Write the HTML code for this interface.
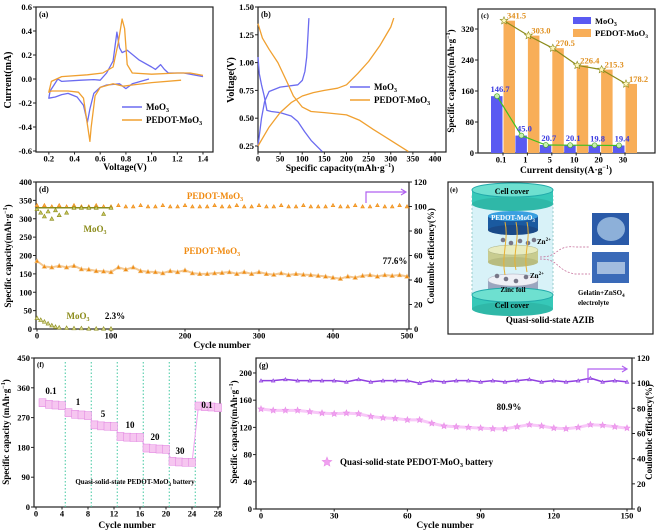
<!DOCTYPE html>
<html><head><meta charset="utf-8">
<style>
html,body{margin:0;padding:0;background:#fff;}
svg{display:block;font-family:"Liberation Serif",serif;font-weight:bold;}
</style></head>
<body>
<svg id="fig" width="656" height="530" viewBox="0 0 656 530" xmlns="http://www.w3.org/2000/svg">
</svg>
<script>
// ---------- DATA ----------
// (a) CV curves [V, mA]
const cvMoO3V = [0.98,0.85,0.8,0.75,0.65,0.6,0.55,0.52,0.5,0.47,0.42,0.35,0.3,0.25,0.2,0.21,0.24,0.27,0.3,0.45,0.55,0.6,0.65,0.7,0.73,0.75,0.77,0.81,0.9,1.0,1.03,1.07,1.1,1.13,1.25,1.4];
const cvMoO3I = [0.0,-0.04,-0.08,-0.04,-0.05,-0.07,-0.12,-0.25,-0.36,-0.22,-0.15,-0.12,-0.13,-0.15,-0.16,-0.1,-0.05,0.0,-0.02,-0.01,-0.005,-0.01,0.05,0.15,0.39,0.26,0.22,0.24,0.16,0.1,0.08,0.12,0.08,0.05,0.05,0.02];
const cvPedV = [1.23,1.0,0.85,0.78,0.7,0.6,0.56,0.53,0.52,0.5,0.47,0.43,0.35,0.22,0.2,0.22,0.3,0.5,0.62,0.7,0.74,0.77,0.79,0.81,0.85,1.0,1.2,1.3,1.4];
const cvPedI = [-0.01,-0.03,-0.05,-0.06,-0.04,-0.07,-0.14,-0.4,-0.52,-0.38,-0.16,-0.11,-0.1,-0.1,-0.11,-0.02,0.02,0.035,0.05,0.1,0.3,0.5,0.42,0.12,0.05,0.04,0.05,0.05,0.03];
// (b) GCD curves [mAh/g, V]
const gMoCq = [0,8,15,25,50,90,100,106,110,113,115];
const gMoCv = [0.25,0.5,0.65,0.74,0.78,0.8,0.84,0.92,1.05,1.25,1.4];
const gMoDq = [0,3,8,14,20,30,50,75,90,105,120,135,145];
const gMoDv = [1.05,0.9,0.8,0.7,0.57,0.56,0.55,0.52,0.47,0.38,0.3,0.24,0.2];
const gPeCq = [0,25,50,75,100,125,150,180,200,225,250,275,300,307];
const gPeCv = [0.25,0.42,0.55,0.64,0.7,0.73,0.75,0.77,0.8,0.9,1.01,1.15,1.32,1.4];
const gPeDq = [0,10,25,45,65,80,100,120,150,200,230,260,300,340];
const gPeDv = [1.35,1.22,1.12,1.0,0.83,0.7,0.6,0.56,0.55,0.53,0.48,0.4,0.3,0.2];
// (c) rate bars
const cCats = ["0.1","1","5","10","20","30"];
const cMoO3 = [146.7,45.0,20.7,20.1,19.8,19.4];
const cPedot = [341.5,303.0,270.5,226.4,215.3,178.2];
const cMoLbl = ["146.7","45.0","20.7","20.1","19.8","19.4"];
const cPeLbl = ["341.5","303.0","270.5","226.4","215.3","178.2"];
// (d) cycling 500
const dCycles = [0,10,20,30,40,50,60,70,80,90,100,110,120,130,140,150,160,170,180,190,200,210,220,230,240,250,260,270,280,290,300,310,320,330,340,350,360,370,380,390,400,410,420,430,440,450,460,470,480,490,500];
const dPedCap = [185,170,168,172,168,172,163,162,158,157,155,168,162,168,158,156,155,152,158,155,160,152,150,150,152,153,155,150,155,150,155,150,148,152,147,150,148,147,145,143,140,137,143,140,145,147,143,147,145,147,143];
const dPedCE = [101,101,100,101,100,101,100,100,101,100,100,101,100,100,101,100,100,101,100,100,101,100,100,100,101,100,100,101,100,100,101,100,100,101,100,100,101,100,100,100,101,100,100,101,100,100,101,100,100,101,100];
const dMoCyc = [0,5,10,15,20,25,30,40,50,60,70,80,90,100];
const dMoCap = [30,25,20,15,10,6,4,3,2,2,1,1,1,1];
const dMoCE = [98,95,92,96,90,97,93,95,99,99,99,99,94,99];
// (f) rate capability
const fCycles = [1,2,3,4,5,6,7,8,9,10,11,12,13,14,15,16,17,18,19,20,21,22,23,24,25,26,27,28];
const fCap = [315,310,308,306,285,280,278,276,248,245,244,243,213,211,210,210,178,176,175,174,138,136,135,135,305,303,302,300];
const fRates = ["0.1","1","5","10","20","30","0.1"];
// (g) quasi-solid cycling
const gCycles = [0,5,10,15,20,25,30,35,40,45,50,55,60,65,70,75,80,85,90,95,100,105,110,115,120,125,130,135,140,145,150];
const gCap = [147,145,145,145,143,141,140,141,140,136,134,133,131,131,126,122,121,120,119,118,118,121,124,122,119,118,120,124,123,121,119];
const gCE = [102,102,103,102,102,102,102,101,103,101,102,102,102,100,102,101,102,102,101,102,101,102,103,101,102,101,102,104,101,102,101];

// ---------- HELPERS ----------
const NS="http://www.w3.org/2000/svg";
const svg=document.getElementById('fig');
function mk(tag,attrs,parent){const e=document.createElementNS(NS,tag);for(const k in attrs)e.setAttribute(k,attrs[k]);(parent||svg).appendChild(e);return e;}
function nm(el,n,i){

return el;}
function txt(x,y,s,size,opts,name){const t=mk('text',Object.assign({x:x,y:y,'font-size':size},opts||{}));t.innerHTML=s;nm(t,name);return t;}
function lin(d0,d1,r0,r1){return v=>r0+(v-d0)/(d1-d0)*(r1-r0);}
function frame(x0,y0,x1,y1,name){nm(mk('rect',{x:x0,y:y0,width:x1-x0,height:y1-y0,fill:'none',stroke:'#222','stroke-width':1.2}),name);}
function xTicks(sx,y,vals,labels,name,fs){vals.forEach((v,i)=>{nm(mk('line',{x1:sx(v),x2:sx(v),y1:y,y2:y+2.5,stroke:'#222'}),name+'-tick');txt(sx(v),y+9.5,labels[i],fs||8.5,{'text-anchor':'middle'},name+'-label');});}
function yTicks(sy,x,vals,labels,name,right,fs){vals.forEach((v,i)=>{nm(mk('line',{x1:x,x2:right?x+3:x-3,y1:sy(v),y2:sy(v),stroke:'#222'}),name+'-tick');txt(right?x+5:x-4,sy(v)+3,labels[i],fs||8.5,{'text-anchor':right?'start':'end'},name+'-label');});}
function path(xs,ys,sx,sy,color,name,w){let d='';xs.forEach((v,i)=>{d+=(i?'L':'M')+sx(v).toFixed(1)+' '+sy(ys[i]).toFixed(1);});return nm(mk('path',{d:d,fill:'none',stroke:color,'stroke-width':w||1.3,'stroke-linejoin':'round'}),name);}
function vtitle(x,y,s,fs,name){const t=txt(x,y,s,fs,{'text-anchor':'middle',transform:'rotate(-90 '+x+' '+y+')'},name);return t;}
function tri(x,y,r,fill,stroke,name){return nm(mk('path',{d:`M${x} ${y-r}L${x+r} ${y+r*0.8}L${x-r} ${y+r*0.8}Z`,fill:fill,stroke:stroke,'stroke-width':0.6}),name);}
function star(x,y,r,fill,stroke,name){let d='';for(let k=0;k<10;k++){const a=-Math.PI/2+k*Math.PI/5,rr=k%2?r*0.45:r;d+=(k?'L':'M')+(x+rr*Math.cos(a)).toFixed(1)+' '+(y+rr*Math.sin(a)).toFixed(1);}return nm(mk('path',{d:d+'Z',fill:fill,stroke:stroke,'stroke-width':0.6}),name);}
const BLUE='#6b6bf0',ORANGE='#f0a030',OLIVE='#8b8b1a',PURPLE='#9040e0',PINK='#f0a0f0';

// ---------- (a) ----------
{const sx=lin(0.1,1.478,36,213),sy=lin(-0.6,0.6,151,7);
frame(36,7,213,152,'panel-a-frame');
xTicks(sx,152,[0.2,0.4,0.6,0.8,1.0,1.2,1.4],['0.2','0.4','0.6','0.8','1.0','1.2','1.4'],'a-x');
yTicks(sy,36,[-0.6,-0.4,-0.2,0,0.2,0.4,0.6],['-0.6','-0.4','-0.2','0.0','0.2','0.4','0.6'],'a-y');
path(cvMoO3V,cvMoO3I,sx,sy,BLUE,'a-moo3-curve');
path(cvPedV,cvPedI,sx,sy,ORANGE,'a-pedot-curve');
txt(39,17,'(a)',8,{},'a-label');
nm(mk('line',{x1:122,x2:142,y1:107,y2:107,stroke:BLUE,'stroke-width':1.5}),'a-legend-moo3-line');
txt(146,110,'MoO<tspan font-size="6" dy="2">3</tspan>',9,{},'a-legend-moo3');
nm(mk('line',{x1:122,x2:142,y1:120,y2:120,stroke:ORANGE,'stroke-width':1.5}),'a-legend-pedot-line');
txt(146,123,'PEDOT-MoO<tspan font-size="6" dy="2">3</tspan>',9,{},'a-legend-pedot');
txt(125,170,'Voltage(V)',9.5,{'text-anchor':'middle'},'a-x-title');
vtitle(11,80,'Current(mA)',10,'a-y-title');}

// ---------- (b) ----------
{const sx=lin(0,400,258,435),sy=lin(0.25,1.5,146,7);
frame(258,7,446,152,'panel-b-frame');
xTicks(sx,152,[0,50,100,150,200,250,300,350,400],['0','50','100','150','200','250','300','350','400'],'b-x');
yTicks(sy,258,[0.25,0.5,0.75,1.0,1.25,1.5],['0.25','0.50','0.75','1.00','1.25','1.50'],'b-y');
path(gMoCq,gMoCv,sx,sy,BLUE,'b-moo3-charge');
path(gMoDq,gMoDv,sx,sy,BLUE,'b-moo3-discharge');
path(gPeCq,gPeCv,sx,sy,ORANGE,'b-pedot-charge');
path(gPeDq,gPeDv,sx,sy,ORANGE,'b-pedot-discharge');
txt(261,17,'(b)',8,{},'b-label');
nm(mk('line',{x1:350,x2:370,y1:87,y2:87,stroke:BLUE,'stroke-width':1.5}),'b-legend-moo3-line');
txt(374,90,'MoO<tspan font-size="6" dy="2">3</tspan>',9,{},'b-legend-moo3');
nm(mk('line',{x1:350,x2:370,y1:100,y2:100,stroke:ORANGE,'stroke-width':1.5}),'b-legend-pedot-line');
txt(374,103,'PEDOT-MoO<tspan font-size="6" dy="2">3</tspan>',9,{},'b-legend-pedot');
txt(340,171,'Specific capacity(mAh·g<tspan font-size="6" dy="-4">−1</tspan><tspan dy="4">)</tspan>',9.5,{'text-anchor':'middle'},'b-x-title');
vtitle(234,80,'Voltage(V)',10,'b-y-title');}

// ---------- (c) ----------
{const sy=lin(0,371.6,153,9);const cx=i=>503+i*24.4;
frame(478,9,655,153,'panel-c-frame');
yTicks(sy,478,[0,80,160,240,320],['0','80','160','240','320'],'c-y');
cCats.forEach((c,i)=>{nm(mk('line',{x1:cx(i),x2:cx(i),y1:153,y2:155.5,stroke:'#222'}),'c-x-tick');txt(cx(i)-2,162.5,c,8.5,{'text-anchor':'middle'},'c-x-label');});
cMoO3.forEach((v,i)=>{nm(mk('rect',{x:cx(i)-12,y:sy(v),width:11.5,height:153-sy(v),fill:'#5a5af2'}),'c-bar-moo3');});
cPedot.forEach((v,i)=>{nm(mk('rect',{x:cx(i)+0.5,y:sy(v),width:11.5,height:153-sy(v),fill:'#f8ae58'}),'c-bar-pedot');});
path(cCats.map((c,i)=>i),cPedot,i=>cx(i)+1,sy,OLIVE,'c-pedot-line',1.2);
path(cCats.map((c,i)=>i),cMoO3,i=>cx(i)-6,sy,'#40c020','c-moo3-line',1.2);
cPedot.forEach((v,i)=>{star(cx(i)+1,sy(v),4,'#fff8c0',OLIVE,'c-pedot-marker');txt(cx(i)+4,sy(v)-2,cPeLbl[i],8.5,{fill:'#e09020'},'c-pedot-value');});
cMoO3.forEach((v,i)=>{nm(mk('circle',{cx:cx(i)-6,cy:sy(v),r:2.5,fill:'#c8f0b0',stroke:'#40a020','stroke-width':0.6}),'c-moo3-marker');txt(cx(i)-3,sy(v)-4,cMoLbl[i],8.5,{fill:'#3a3ae0','text-anchor':'middle'},'c-moo3-value');});
txt(481,18,'(c)',7,{},'c-label');
nm(mk('rect',{x:573,y:17,width:18,height:7,fill:'#5a5af2'}),'c-legend-moo3-swatch');
txt(595,24,'MoO<tspan font-size="6" dy="2">3</tspan>',8.5,{},'c-legend-moo3');
nm(mk('rect',{x:573,y:29,width:18,height:8,fill:'#f8ae58'}),'c-legend-pedot-swatch');
txt(595,36,'PEDOT-MoO<tspan font-size="5.5" dy="2">3</tspan>',8.5,{},'c-legend-pedot');
txt(566,173,'Current density(A·g<tspan font-size="6" dy="-4">−1</tspan><tspan dy="4">)</tspan>',9.5,{'text-anchor':'middle'},'c-x-title');
vtitle(454,81,'Specific capacity(mAh·g<tspan font-size="6" dy="-4">−1</tspan><tspan dy="4">)</tspan>',9,'c-y-title');}

// ---------- (d) ----------
{const sx=lin(0,500,37,407),sy=lin(0,400,329,182),sr=lin(0,120,329,182);
frame(36,182,409,329,'panel-d-frame');
xTicks(sx,329,[0,100,200,300,400,500],['0','100','200','300','400','500'],'d-x');
yTicks(sy,36,[0,50,100,150,200,250,300,350,400],['0','50','100','150','200','250','300','350','400'],'d-y');
yTicks(sr,409,[0,20,40,60,80,100,120],['0','20','40','60','80','100','120'],'d-y2',true);
path(dCycles,dPedCap,sx,sy,'#f5c890','d-pedot-cap-line',2);
dCycles.forEach((c,i)=>{tri(sx(c),sy(dPedCap[i]),2.3,'#f08a10','#f0c080','d-pedot-cap-marker');});
dCycles.forEach((c,i)=>{tri(sx(c),sr(dPedCE[i]),1.8,'#f5b050','#f08a10','d-pedot-ce-marker');});
nm(mk('line',{x1:sx(0),x2:sx(100),y1:sr(99),y2:sr(99),stroke:OLIVE,'stroke-width':1.5}),'d-moo3-ce-line');
dMoCyc.forEach((c,i)=>{tri(sx(c),sr(dMoCE[i]),2,'#c8c860',OLIVE,'d-moo3-ce-marker');});
dMoCyc.forEach((c,i)=>{tri(sx(c),sy(dMoCap[i]),2,'#d8d890',OLIVE,'d-moo3-cap-marker');});
txt(39,192,'(d)',8,{},'d-label');
txt(215,199,'PEDOT-MoO<tspan font-size="6" dy="2">3</tspan>',9,{fill:'#f08a10','text-anchor':'middle'},'d-pedot-ce-label');
txt(95,232,'MoO<tspan font-size="6" dy="2">3</tspan>',9,{fill:OLIVE,'text-anchor':'middle'},'d-moo3-ce-label');
txt(212,254,'PEDOT-MoO<tspan font-size="6" dy="2">3</tspan>',9,{fill:'#f08a10','text-anchor':'middle'},'d-pedot-cap-label');
txt(395,264,'77.6%',9,{'text-anchor':'middle'},'d-retention-pedot');
txt(78,319,'MoO<tspan font-size="6" dy="2">3</tspan>',9,{fill:OLIVE,'text-anchor':'middle'},'d-moo3-cap-label');
txt(115,319,'2.3%',9,{'text-anchor':'middle'},'d-retention-moo3');
nm(mk('path',{d:'M366 203V192H405M401 189L406 192L401 195',fill:'none',stroke:'#b060f0','stroke-width':1.2}),'d-axis-arrow');
txt(222,348,'Cycle number',9.5,{'text-anchor':'middle'},'d-x-title');
vtitle(11,256,'Specific capacity(mAh·g<tspan font-size="6" dy="-4">−1</tspan><tspan dy="4">)</tspan>',9,'d-y-title');
vtitle(434,256,'Coulombic efficiency(%)',9,'d-y2-title');}

// ---------- (e) illustration ----------
{frame(448,182,653,334,'panel-e-frame');
const g=nm(mk('g',{}),'e-battery-illustration');
mk('rect',{x:472,y:196,width:81,height:98,fill:'#d8f2f8',stroke:'#9cc','stroke-dasharray':'2 2'},g);
mk('rect',{x:472,y:190,width:81,height:14,fill:'#36c8b8'},g);
mk('ellipse',{cx:512.5,cy:190,rx:40.5,ry:7,fill:'#6ee0d0',stroke:'#2aa'},g);
mk('ellipse',{cx:512.5,cy:204,rx:40.5,ry:7,fill:'#2fb8a8'},g);
mk('rect',{x:488,y:216,width:50,height:14,fill:'#1a5aa0'},g);
mk('ellipse',{cx:513,cy:230,rx:25,ry:5,fill:'#1a4a88'},g);
mk('ellipse',{cx:513,cy:216,rx:25,ry:5,fill:'#3aa0e0'},g);
mk('rect',{x:488,y:250,width:50,height:12,fill:'#c8cc90'},g);
mk('ellipse',{cx:513,cy:262,rx:25,ry:5,fill:'#b8bc80'},g);
mk('ellipse',{cx:513,cy:250,rx:25,ry:5,fill:'#e8ecc0',stroke:'#aab080','stroke-width':0.5},g);
mk('rect',{x:488,y:280,width:50,height:14,fill:'#9aa6c0'},g);
mk('ellipse',{cx:513,cy:294,rx:25,ry:5,fill:'#808aa8'},g);
mk('ellipse',{cx:513,cy:280,rx:25,ry:6,fill:'#eef0f6',stroke:'#aab','stroke-width':0.5},g);
mk('rect',{x:472,y:295,width:81,height:14,fill:'#36c8b8'},g);
mk('ellipse',{cx:512.5,cy:309,rx:40.5,ry:7,fill:'#2fb8a8'},g);
mk('ellipse',{cx:512.5,cy:295,rx:40.5,ry:7,fill:'#6ee0d0',stroke:'#2aa'},g);
[[503,240],[511,243],[520,241],[528,243],[534,240],[497,276],[506,279],[516,281],[526,277]].forEach(p=>mk('circle',{cx:p[0],cy:p[1],r:2.3,fill:'#778'},g));
[[505,275],[516,270],[527,272]].forEach(p=>mk('path',{d:`M${p[0]} ${p[1]}C${p[0]-4} 255 ${p[0]+4} 240 ${p[0]} 222`,fill:'none',stroke:'#e8b030','stroke-width':1},g));
mk('path',{d:'M540 257C560 257 555 245 575 247H590M540 259C560 259 555 270 575 274H590',fill:'none',stroke:'#c06090','stroke-width':0.7,'stroke-dasharray':'2 1.5'},g);
mk('rect',{x:592,y:213,width:37,height:32,fill:'#2a5aa8'},g);
mk('ellipse',{cx:611,cy:229,rx:14,ry:12,fill:'#b8d4ee',opacity:0.7},g);
mk('rect',{x:592,y:252,width:37,height:31,fill:'#3a6ab8'},g);
mk('rect',{x:597,y:262,width:28,height:12,fill:'#cfe0f0',opacity:0.7},g);
txt(512,194,'Cell cover',8,{'text-anchor':'middle'},'e-top-cover-label');
txt(513,220,'PEDOT-MoO<tspan font-size="5" dy="2">3</tspan>',7,{'text-anchor':'middle',fill:'#fff'},'e-cathode-label');
txt(537,244,'Zn<tspan font-size="5" dy="-3">2+</tspan>',7,{},'e-zn-ion-top');
txt(530,278,'Zn<tspan font-size="5" dy="-3">2+</tspan>',7,{},'e-zn-ion-bottom');
txt(513,292,'Zinc foil',7,{'text-anchor':'middle'},'e-anode-label');
txt(512,308,'Cell cover',8,{'text-anchor':'middle'},'e-bottom-cover-label');
txt(578,295,'Gelatin+ZnSO<tspan font-size="5" dy="2">4</tspan>',7,{},'e-electrolyte-label');
txt(578,305,'electrolyte',7,{},'e-electrolyte-label2');
txt(550,323,'Quasi-solid-state AZIB',9,{'text-anchor':'middle'},'e-caption');
txt(450,192,'(e)',7,{},'e-label');}

// ---------- (f) ----------
{const sx=lin(0,28,36,218),sy=lin(0,450,507,358);
frame(34,358,220,507,'panel-f-frame');
xTicks(sx,507,[0,4,8,12,16,20,24,28],['0','4','8','12','16','20','24','28'],'f-x');
yTicks(sy,34,[0,90,180,270,360,450],['0','90','180','270','360','450'],'f-y');
[4.5,8.5,12.5,16.5,20.5,24.5].forEach(v=>nm(mk('line',{x1:sx(v),x2:sx(v),y1:362,y2:507,stroke:'#40c8a0','stroke-dasharray':'1.5 2','stroke-width':1}),'f-divider'));
path(fCycles,fCap,sx,sy,PINK,'f-cap-line',1);
fCycles.forEach((c,i)=>{nm(mk('rect',{x:sx(c)-3.5,y:sy(fCap[i])-4,width:7,height:8,fill:'#f6c6f0',stroke:'#e080e0','stroke-width':0.5}),'f-cap-marker');});
const pos=[[51,394],[78,405],[103,417],[130,428],[155,440],[180,454],[207,408]];
fRates.forEach((r,i)=>txt(pos[i][0],pos[i][1],r,9,{'text-anchor':'middle'},'f-rate-label'));
txt(37,367,'(f)',7,{},'f-label');
txt(135,484,'Quasi-solid-state PEDOT-MoO<tspan font-size="5" dy="2">3</tspan><tspan dy="-2"> battery</tspan>',7,{'text-anchor':'middle'},'f-caption');
txt(127,528,'Cycle number',9.5,{'text-anchor':'middle'},'f-x-title');
vtitle(9,432,'Specific capacity (mAh·g<tspan font-size="6" dy="-4">−1</tspan><tspan dy="4">)</tspan>',9,'f-y-title');}

// ---------- (g) ----------
{const sx=lin(0,150,261,627),sy=lin(0,222,509,358),sr=lin(0,120,509,358);
frame(256,358,632,509,'panel-g-frame');
xTicks(sx,509,[0,30,60,90,120,150],['0','30','60','90','120','150'],'g-x');
yTicks(sy,256,[0,40,80,120,160,200],['0','40','80','120','160','200'],'g-y');
yTicks(sr,632,[0,20,40,60,80,100,120],['0','20','40','60','80','100','120'],'g-y2',true);
path(gCycles,gCap,sx,sy,'#f8c8f8','g-cap-line',3);
gCycles.forEach((c,i)=>{star(sx(c),sy(gCap[i]),3.2,PINK,'#e890e8','g-cap-marker');});
path(gCycles,gCE,sx,sr,PURPLE,'g-ce-line',1.5);
gCycles.forEach((c,i)=>{tri(sx(c),sr(gCE[i]),1.8,'#c090f0',PURPLE,'g-ce-marker');});
txt(259,368,'(g)',8,{},'g-label');
star(327,462,5,PINK,'#e890e8','g-legend-marker');
txt(340,465,'Quasi-solid-state PEDOT-MoO<tspan font-size="6" dy="2">3</tspan><tspan dy="-2"> battery</tspan>',9,{},'g-legend');
txt(509,410,'80.9%',9,{'text-anchor':'middle'},'g-retention');
nm(mk('path',{d:'M588 383V369H626M622 366L627 369L622 372',fill:'none',stroke:'#b060f0','stroke-width':1.2}),'g-axis-arrow');
txt(445,528,'Cycle number',9.5,{'text-anchor':'middle'},'g-x-title');
vtitle(237,432,'Specific capacity(mAh·g<tspan font-size="6" dy="-4">−1</tspan><tspan dy="4">)</tspan>',9,'g-y-title');
vtitle(652,432,'Coulombic efficiency(%)',9,'g-y2-title');}
</script>
</body></html>
